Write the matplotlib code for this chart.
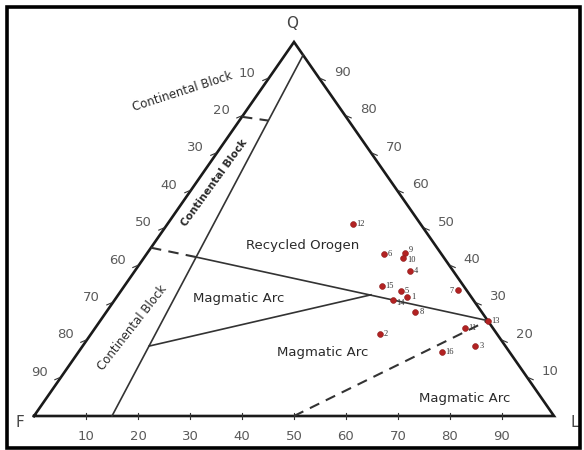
import matplotlib
matplotlib.use("Agg")
import matplotlib.pyplot as plt
from matplotlib.patches import Rectangle

# sample compositions in percent (Q, F, L)
sample_ids = ["1", "2", "3", "4", "5", "6", "7", "8", "9", "10", "11", "12", "13", "14", "15", "16"]
Q = [31.7, 21.9, 18.6, 38.9, 33.4, 43.4, 33.7, 27.9, 43.7, 42.2, 23.4, 51.3, 25.5, 31.1, 34.7, 17.2]
F = [12.4, 22.5, 5.8, 8.2, 12.8, 11.0, 1.7, 12.7, 6.8, 7.9, 5.5, 13.1, 0.0, 15.5, 15.8, 13.0]
L = [55.9, 55.6, 75.6, 52.9, 53.8, 45.6, 64.6, 59.4, 49.5, 49.9, 71.1, 35.6, 74.5, 53.4, 49.5, 69.8]

ticks = [10, 20, 30, 40, 50, 60, 70, 80, 90]

# field boundaries, endpoints as (Q, F, L)
solid_lines = [
    [(96.5, 0.0, 3.5), (0.0, 85.0, 15.0)],
    [(42.5, 47.6, 9.9), (25.5, 0.0, 74.5)],
    [(18.7, 68.5, 12.8), (32.4, 19.0, 48.6)],
]
dashed_lines = [
    [(80.0, 20.0, 0.0), (79.0, 15.5, 5.5)],
    [(45.0, 55.0, 0.0), (42.5, 47.6, 9.9)],
    [(0.0, 50.0, 50.0), (25.5, 0.0, 74.5)],
]


def xy(q, f, l):
    return l + q / 2.0, q


W, H = 584, 450
fig = plt.figure(figsize=(W / 100, H / 100), dpi=100)
ax = fig.add_axes([34 / W, (H - 416) / H, 520 / W, 374 / H])
ax.set_xlim(0, 100)
ax.set_ylim(0, 100)
ax.axis("off")

# outer frame
fig.patches.append(Rectangle((6.5 / W, 2.5 / H), 573 / W, 440.5 / H, transform=fig.transFigure,
                             fill=False, lw=2.6, ec="black"))

# triangle
tri = [xy(0, 100, 0), xy(0, 0, 100), xy(100, 0, 0), xy(0, 100, 0)]
ax.plot([p[0] for p in tri], [p[1] for p in tri], color="#1a1a1a", lw=1.9, clip_on=False,
        solid_joinstyle="miter")

for seg in solid_lines:
    a, b = xy(*seg[0]), xy(*seg[1])
    ax.plot([a[0], b[0]], [a[1], b[1]], color="#333333", lw=1.2, clip_on=False)
for seg in dashed_lines:
    a, b = xy(*seg[0]), xy(*seg[1])
    ax.plot([a[0], b[0]], [a[1], b[1]], color="#333333", lw=1.5, ls=(0, (5, 3.5)), clip_on=False)

tick_col = "#5a5a5a"
for t in ticks:
    # bottom (L)
    x, y = xy(0, 100 - t, t)
    ax.plot([x, x], [y - 0.8, y + 0.8], color="#333333", lw=0.8, clip_on=False)
    ax.annotate(str(t), (x, y), xytext=(0, -15), textcoords="offset points",
                ha="center", va="center", fontsize=9.5, color=tick_col)
    # left (F)
    x, y = xy(100 - t, t, 0)
    ax.plot([x - 1.0, x], [y - 0.3, y + 0.3], color="#333333", lw=0.8, clip_on=False)
    ax.annotate(str(t), (x, y), xytext=(-15, 4.5), textcoords="offset points",
                ha="center", va="center", fontsize=9.5, color=tick_col)
    # right (Q)
    x, y = xy(t, 0, 100 - t)
    ax.plot([x, x + 1.0], [y + 0.3, y - 0.3], color="#333333", lw=0.8, clip_on=False)
    ax.annotate(str(t), (x, y), xytext=(16, 5), textcoords="offset points",
                ha="center", va="center", fontsize=9.5, color=tick_col)

# vertex labels
for name, pos, off in [("Q", xy(100, 0, 0), (-1, 13)), ("F", xy(0, 100, 0), (-10, -5)),
                       ("L", xy(0, 0, 100), (15, -5))]:
    ax.annotate(name, pos, xytext=off, textcoords="offset points", ha="center", va="center",
                fontsize=11, color="#444444")

# field names
lab = dict(color="#2a2a2a", ha="center", va="center")
ax.annotate("Continental Block", xy(85, 15, 0), xytext=(-52, 5), textcoords="offset points",
            rotation=18, fontsize=8.5, **lab)
ax.text(*xy(62.3, 34.2, 3.5), "Continental Block", rotation=54, fontsize=7.6, fontweight="bold", **lab)
ax.text(*xy(23.5, 69.4, 7.1), "Continental Block", rotation=52, fontsize=8.5, **lab)
ax.text(*xy(45.7, 25.4, 28.9), "Recycled Orogen", fontsize=9.5, **lab)
ax.text(*xy(31.5, 44.9, 23.6), "Magmatic Arc", fontsize=9.5, **lab)
ax.text(*xy(17.1, 35.9, 47.0), "Magmatic Arc", fontsize=9.5, **lab)
ax.text(*xy(4.8, 14.7, 80.5), "Magmatic Arc", fontsize=9.5, **lab)

# samples
px = [l + q / 2.0 for q, l in zip(Q, L)]
ax.plot(px, Q, "o", ms=4.2, color="#b22222", mec="#8b1a1a", mew=0.4, ls="none", clip_on=False)
label_dy = {"14": -2.5, "9": 1.5, "10": -1.5}
for sid, x, y in zip(sample_ids, px, Q):
    if sid == "7":
        ax.annotate(sid, (x, y), xytext=(-2.8, -1), textcoords="offset points",
                    ha="right", va="center", fontsize=6, family="Liberation Serif", color="#333333")
        continue
    ax.annotate(sid, (x, y), xytext=(2.8, label_dy.get(sid, 0)), textcoords="offset points",
                ha="left", va="center", fontsize=6, family="Liberation Serif", color="#333333")

fig.savefig("out.png", dpi=100)
